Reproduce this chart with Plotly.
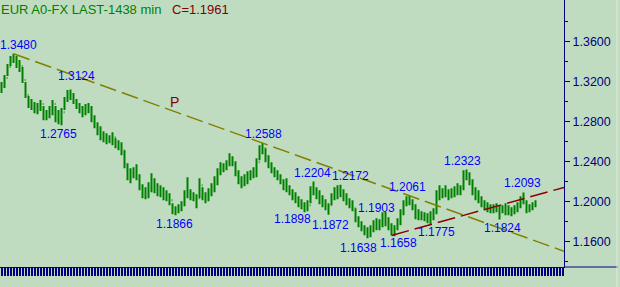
import plotly.graph_objects as go

# ---------------- data ----------------
highs = [
    1.3197, 1.3267, 1.3377, 1.3457, 1.3480, 1.3457, 1.3417, 1.3347, 1.3197, 1.3057,
    1.3027, 1.2997, 1.2987, 1.3017, 1.2957, 1.2917, 1.2957, 1.3017, 1.2957, 1.2917,
    1.2937, 1.3047, 1.3117, 1.3124, 1.3087, 1.3027, 1.2987, 1.2957, 1.2977, 1.2987,
    1.2957, 1.2867, 1.2797, 1.2757, 1.2707, 1.2687, 1.2667, 1.2697, 1.2637, 1.2617,
    1.2597, 1.2517, 1.2387, 1.2337, 1.2347, 1.2377, 1.2277, 1.2177, 1.2147, 1.2197,
    1.2287, 1.2237, 1.2187, 1.2167, 1.2147, 1.2117, 1.2087, 1.1987, 1.1957, 1.1977,
    1.2007, 1.2117, 1.2247, 1.2127, 1.2097, 1.2077, 1.2237, 1.2147, 1.2097, 1.2137,
    1.2187, 1.2257, 1.2337, 1.2397, 1.2387, 1.2417, 1.2487, 1.2457, 1.2407, 1.2317,
    1.2257, 1.2277, 1.2307, 1.2317, 1.2347, 1.2437, 1.2567, 1.2588, 1.2537, 1.2467,
    1.2397, 1.2347, 1.2317, 1.2277, 1.2227, 1.2237, 1.2167, 1.2127, 1.2097, 1.2057,
    1.2027, 1.1997, 1.2017, 1.2157, 1.2204, 1.2147, 1.2117, 1.2067, 1.2027, 1.1987,
    1.2087, 1.2147, 1.2167, 1.2172, 1.2127, 1.2087, 1.2037, 1.2017, 1.1937, 1.1857,
    1.1807, 1.1767, 1.1747, 1.1767, 1.1817, 1.1837, 1.1827, 1.1897, 1.1903, 1.1847,
    1.1787, 1.1767, 1.1837, 1.1927, 1.2017, 1.2057, 1.2061, 1.2027, 1.1977, 1.1927,
    1.1907, 1.1897, 1.1887, 1.1907, 1.1937, 1.2117, 1.2167, 1.2137, 1.2167, 1.2127,
    1.2137, 1.2157, 1.2187, 1.2167, 1.2317, 1.2323, 1.2297, 1.2227, 1.2147, 1.2117,
    1.2057, 1.2017, 1.1997, 1.1977, 1.1977, 1.1987, 1.1967, 1.1967, 1.1987, 1.1967,
    1.1947, 1.1967, 1.1997, 1.2057, 1.2093, 1.2017, 1.1977, 1.1997, 1.2017,
]
lows = [
    1.3087, 1.3137, 1.3257, 1.3357, 1.3387, 1.3337, 1.3297, 1.3187, 1.3037, 1.2937,
    1.2917, 1.2887, 1.2877, 1.2907, 1.2817, 1.2817, 1.2837, 1.2867, 1.2797, 1.2777,
    1.2765, 1.2917, 1.2997, 1.3017, 1.2977, 1.2927, 1.2887, 1.2847, 1.2867, 1.2887,
    1.2797, 1.2737, 1.2667, 1.2617, 1.2597, 1.2577, 1.2587, 1.2567, 1.2537, 1.2517,
    1.2467, 1.2337, 1.2217, 1.2187, 1.2237, 1.2217, 1.2117, 1.2037, 1.2027, 1.2037,
    1.2097, 1.2087, 1.2057, 1.2047, 1.2017, 1.2007, 1.1967, 1.1877, 1.1866, 1.1887,
    1.1907, 1.1957, 1.2037, 1.2017, 1.2007, 1.1937, 1.2037, 1.2017, 1.1987, 1.2007,
    1.2057, 1.2097, 1.2167, 1.2267, 1.2297, 1.2317, 1.2357, 1.2357, 1.2257, 1.2177,
    1.2137, 1.2157, 1.2177, 1.2217, 1.2237, 1.2247, 1.2417, 1.2477, 1.2397, 1.2337,
    1.2287, 1.2247, 1.2217, 1.2177, 1.2117, 1.2097, 1.2067, 1.2017, 1.1987, 1.1947,
    1.1927, 1.1898, 1.1907, 1.1987, 1.2067, 1.2027, 1.1977, 1.1947, 1.1917, 1.1872,
    1.1967, 1.2017, 1.2027, 1.2047, 1.2007, 1.1967, 1.1937, 1.1907, 1.1797, 1.1747,
    1.1707, 1.1667, 1.1638, 1.1647, 1.1697, 1.1717, 1.1717, 1.1747, 1.1757, 1.1717,
    1.1667, 1.1658, 1.1717, 1.1767, 1.1867, 1.1957, 1.1967, 1.1917, 1.1827, 1.1817,
    1.1817, 1.1807, 1.1787, 1.1775, 1.1817, 1.1877, 1.2017, 1.2037, 1.2047, 1.2017,
    1.2037, 1.2047, 1.2067, 1.2067, 1.2117, 1.2217, 1.2167, 1.2067, 1.2017, 1.1987,
    1.1947, 1.1917, 1.1897, 1.1887, 1.1887, 1.1897, 1.1824, 1.1887, 1.1867, 1.1867,
    1.1857, 1.1877, 1.1897, 1.1937, 1.1977, 1.1887, 1.1897, 1.1917, 1.1947,
]
closes = [
    1.3157, 1.3237, 1.3347, 1.3437, 1.3417, 1.3397, 1.3357, 1.3217, 1.3067, 1.2997,
    1.2957, 1.2937, 1.2957, 1.2977, 1.2867, 1.2887, 1.2917, 1.2977, 1.2857, 1.2837,
    1.2897, 1.3017, 1.3077, 1.3067, 1.3017, 1.2967, 1.2917, 1.2887, 1.2937, 1.2917,
    1.2837, 1.2777, 1.2717, 1.2667, 1.2657, 1.2637, 1.2627, 1.2647, 1.2587, 1.2557,
    1.2517, 1.2367, 1.2297, 1.2267, 1.2307, 1.2257, 1.2157, 1.2087, 1.2077, 1.2137,
    1.2217, 1.2137, 1.2117, 1.2087, 1.2067, 1.2047, 1.2017, 1.1917, 1.1907, 1.1937,
    1.1967, 1.2067, 1.2097, 1.2067, 1.2047, 1.2037, 1.2167, 1.2077, 1.2047, 1.2097,
    1.2147, 1.2217, 1.2297, 1.2347, 1.2357, 1.2387, 1.2417, 1.2397, 1.2297, 1.2217,
    1.2197, 1.2237, 1.2257, 1.2277, 1.2297, 1.2397, 1.2517, 1.2537, 1.2437, 1.2387,
    1.2337, 1.2287, 1.2257, 1.2217, 1.2157, 1.2137, 1.2107, 1.2057, 1.2027, 1.1997,
    1.1967, 1.1927, 1.1967, 1.2117, 1.2137, 1.2077, 1.2017, 1.1987, 1.1957, 1.1967,
    1.2047, 1.2107, 1.2137, 1.2097, 1.2057, 1.2017, 1.1977, 1.1937, 1.1837, 1.1787,
    1.1747, 1.1717, 1.1687, 1.1737, 1.1767, 1.1797, 1.1777, 1.1837, 1.1817, 1.1757,
    1.1717, 1.1737, 1.1797, 1.1897, 1.1987, 1.2027, 1.2017, 1.1967, 1.1877, 1.1867,
    1.1857, 1.1847, 1.1837, 1.1867, 1.1897, 1.2067, 1.2117, 1.2087, 1.2117, 1.2077,
    1.2097, 1.2117, 1.2137, 1.2127, 1.2287, 1.2277, 1.2217, 1.2117, 1.2067, 1.2037,
    1.1987, 1.1957, 1.1937, 1.1927, 1.1937, 1.1947, 1.1917, 1.1927, 1.1917, 1.1907,
    1.1897, 1.1927, 1.1967, 1.2037, 1.1997, 1.1937, 1.1947, 1.1967, 1.1961,
]
first_open = 1.3117
bars = list(range(len(closes)))
opens = [first_open] + closes[:-1]

# swing labels: bar index, value
swing_bar = [4, 23, 20, 58, 87, 101, 104, 109, 113, 122, 128, 131, 136, 143, 155, 166, 174]
swing_val = [1.3480, 1.3124, 1.2765, 1.1866, 1.2588, 1.1898, 1.2204, 1.1872, 1.2172,
             1.1638, 1.1903, 1.1658, 1.2061, 1.1775, 1.2323, 1.1824, 1.2093]

# trend lines (bar index, price)
p_line_x = [4, 187.5]
p_line_y = [1.3480, 1.1508]
r_line_x = [130, 187.5]
r_line_y = [1.1665, 1.2145]
p_mark_x, p_mark_y = 57.8, 1.2997

ytick_vals = [1.16, 1.20, 1.24, 1.28, 1.32, 1.36]
ytick_text = ["1.1600", "1.2000", "1.2400", "1.2800", "1.3200", "1.3600"]
yminor_vals = [1.14, 1.18, 1.22, 1.26, 1.30, 1.34, 1.38]

title_text = "EUR A0-FX LAST-1438 min"

# ---------------- style / layout ----------------
label_dx = [4.5, 5.5, -3.5, -1.5, 0.5, -12.5, -1.5, 1.5, 9.5, -9.5, -9.5, 3.5, -2.5, 5.5, -4.5, 2.5, -1.5]
label_dy = [8.7, 13, -9, -9, 9, -7, 9, -10.5, 8.5, -10, 3.4, -7, 8.6, -8, 8.4, -8.7, 9.4]

BG = "#C0DCC0"
NAVY = "#000080"
GREEN = "#008000"
FONT = "Liberation Sans, Arial, sans-serif"

fig = go.Figure()

fig.add_trace(go.Scatter(
    x=p_line_x, y=p_line_y, mode="lines",
    line=dict(color="#808000", width=1.5, dash="17px,6px"),
    hoverinfo="skip", showlegend=False))
fig.add_trace(go.Scatter(
    x=r_line_x, y=r_line_y, mode="lines",
    line=dict(color="#8B0000", width=1.5, dash="18px,6px"),
    hoverinfo="skip", showlegend=False))

fig.add_trace(go.Ohlc(
    x=bars, open=opens, high=highs, low=lows, close=closes,
    increasing=dict(line=dict(color=GREEN, width=2)),
    decreasing=dict(line=dict(color=GREEN, width=2)),
    tickwidth=0.25, showlegend=False, hoverinfo="skip"))

annotations = []
for b, v, dx, dy in zip(swing_bar, swing_val, label_dx, label_dy):
    annotations.append(dict(
        x=b, y=v, xref="x", yref="y", text=f"{v:.4f}", showarrow=False,
        xanchor="center", yanchor="middle", xshift=dx, yshift=dy,
        font=dict(family=FONT, size=12, color="#0000FF")))
annotations.append(dict(
    x=p_mark_x, y=p_mark_y, xref="x", yref="y", text="P", showarrow=False,
    xanchor="center", yanchor="middle",
    font=dict(family=FONT, size=14, color="#800000")))
annotations.append(dict(
    x=0, y=1, xref="paper", yref="paper", text=title_text, showarrow=False,
    xanchor="left", yanchor="top", xshift=-1, yshift=0,
    font=dict(family=FONT, size=13, color=GREEN)))
annotations.append(dict(
    x=171 / 564, y=1, xref="paper", yref="paper", text=f"C={closes[-1]:.4f}",
    showarrow=False, xanchor="left", yanchor="top", xshift=-1,
    font=dict(family=FONT, size=13, color="#800000")))

shapes = [
    dict(type="line", xref="paper", yref="paper", x0=1, x1=618 / 564, y0=0, y1=0,
         line=dict(color=NAVY, width=1)),
    dict(type="line", xref="paper", yref="paper", x0=617 / 564, x1=617 / 564,
         y0=-20 / 267, y1=1, line=dict(color="#E4E4E4", width=1)),
]

fig.update_layout(
    width=620, height=287,
    margin=dict(l=0, r=56, t=0, b=20),
    paper_bgcolor=BG, plot_bgcolor=BG,
    showlegend=False,
    annotations=annotations, shapes=shapes,
    xaxis=dict(
        range=[-0.5, 187.5], showgrid=False, zeroline=False,
        showticklabels=False, ticks="outside", ticklen=8, tickwidth=2,
        tickcolor=NAVY, tickmode="linear", tick0=0, dtick=1,
        showline=True, linecolor=NAVY, linewidth=1,
        rangeslider=dict(visible=False), fixedrange=True),
    yaxis=dict(
        side="right", range=[1.135, 1.4017], showgrid=False, zeroline=False,
        tickmode="array", tickvals=ytick_vals, ticktext=ytick_text,
        ticks="outside", ticklen=5, tickwidth=1, tickcolor=NAVY,
        showline=True, linecolor=NAVY, linewidth=1,
        tickfont=dict(family=FONT, size=12.5, color=NAVY),
        minor=dict(tickmode="array", tickvals=yminor_vals, ticks="outside",
                   ticklen=3, tickwidth=1, tickcolor=NAVY),
        fixedrange=True),
)

fig.write_html("out.html")
